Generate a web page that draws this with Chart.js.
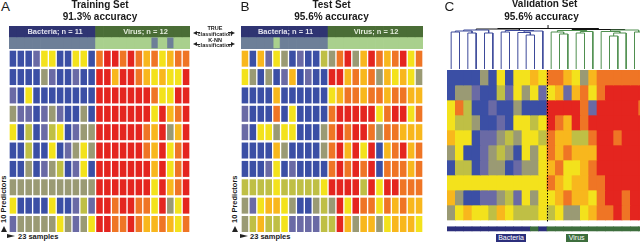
<!DOCTYPE html>
<html><head><meta charset="utf-8">
<script src="https://cdn.jsdelivr.net/npm/chart.js@4.4.1/dist/chart.umd.min.js"></script>
<style>
html,body{margin:0;padding:0;width:640px;height:242px;overflow:hidden;background:#fff;}
body{position:relative;font-family:"Liberation Sans",Arial,sans-serif;}
canvas{position:absolute;}
.t{position:absolute;white-space:nowrap;line-height:1;color:#1a1a1a;}
.b{font-weight:bold;}
.c{text-align:center;width:200px;}
.tri{position:absolute;width:0;height:0;}
</style></head><body>

<canvas id="cA" width="181" height="206" style="left:9px;top:26px"></canvas>
<canvas id="cB" width="182" height="206" style="left:240.7px;top:26px"></canvas>
<canvas id="cD" width="200" height="50" style="left:446.7px;top:20px"></canvas>
<canvas id="cC" width="200" height="162" style="left:446.7px;top:70px"></canvas>

<!-- panel letters and titles -->
<div class="t" style="left:1px;top:0px;font-size:13.5px">A</div>
<div class="t" style="left:240.5px;top:0px;font-size:13.5px">B</div>
<div class="t" style="left:444.5px;top:0px;font-size:13.5px">C</div>
<div class="t b c" style="left:0px;top:-0.5px;font-size:10px">Training Set</div>
<div class="t b c" style="left:0px;top:12px;font-size:10px">91.3% accuracy</div>
<div class="t b c" style="left:231.5px;top:-0.5px;font-size:10px">Test Set</div>
<div class="t b c" style="left:231.5px;top:12px;font-size:10px">95.6% accuracy</div>
<div class="t b c" style="left:444.5px;top:-1.5px;font-size:10px">Validation Set</div>
<div class="t b c" style="left:441.5px;top:12px;font-size:10px">95.6% accuracy</div>

<!-- header labels -->
<div class="t b c" style="left:-45px;top:28.4px;font-size:7.5px;color:#e2e2ee">Bacteria; n = 11</div>
<div class="t b c" style="left:45.5px;top:28.4px;font-size:7.5px;color:#e4ecdc">Virus; n = 12</div>
<div class="t b c" style="left:185.5px;top:28.4px;font-size:7.5px;color:#e2e2ee">Bacteria; n = 11</div>
<div class="t b c" style="left:276px;top:28.4px;font-size:7.5px;color:#e4ecdc">Virus; n = 12</div>

<!-- middle classification labels -->
<div class="t b c" style="left:115px;top:26.3px;font-size:5.5px">TRUE</div>
<div class="t b c" style="left:115px;top:31.8px;font-size:5.5px">classification</div>
<div class="t b c" style="left:115px;top:37.8px;font-size:5.5px">K-NN</div>
<div class="t b c" style="left:115px;top:43.1px;font-size:5.5px">classification</div>
<div class="tri" style="left:193px;top:30.5px;border-top:2px solid transparent;border-bottom:2px solid transparent;border-right:4px solid #222"></div>
<div class="tri" style="left:197px;top:32px;width:3px;height:1px;background:#222"></div>
<div class="tri" style="left:193px;top:42px;border-top:2px solid transparent;border-bottom:2px solid transparent;border-right:4px solid #222"></div>
<div class="tri" style="left:197px;top:43.5px;width:3px;height:1px;background:#222"></div>
<div class="tri" style="left:231px;top:30.5px;border-top:2px solid transparent;border-bottom:2px solid transparent;border-left:4px solid #222"></div>
<div class="tri" style="left:228px;top:32px;width:3px;height:1px;background:#222"></div>
<div class="tri" style="left:231px;top:42px;border-top:2px solid transparent;border-bottom:2px solid transparent;border-left:4px solid #222"></div>
<div class="tri" style="left:228px;top:43.5px;width:3px;height:1px;background:#222"></div>

<!-- axis notes -->
<div class="t b" style="left:0px;top:223px;font-size:7.5px;transform:rotate(-90deg);transform-origin:0 0">10 Predictors</div>
<div class="tri" style="left:1px;top:226px;border-left:3px solid transparent;border-right:3px solid transparent;border-bottom:6px solid #222"></div>
<div class="tri" style="left:7px;top:234px;border-top:2.5px solid transparent;border-bottom:2.5px solid transparent;border-left:8px solid #222"></div>
<div class="t b" style="left:18px;top:233.2px;font-size:7.5px">23 samples</div>
<div class="t b" style="left:231px;top:223px;font-size:7.5px;transform:rotate(-90deg);transform-origin:0 0">10 Predictors</div>
<div class="tri" style="left:232px;top:226px;border-left:3px solid transparent;border-right:3px solid transparent;border-bottom:6px solid #222"></div>
<div class="tri" style="left:240px;top:234px;border-top:2.5px solid transparent;border-bottom:2.5px solid transparent;border-left:8px solid #222"></div>
<div class="t b" style="left:250px;top:233.2px;font-size:7.5px">23 samples</div>

<!-- validation bottom labels -->
<div class="t" style="left:496px;top:234px;width:30px;height:8px;background:#2c2f7c;color:#fff;font-size:7px;text-align:center;line-height:8px">Bacteria</div>
<div class="t" style="left:565.7px;top:234px;width:22px;height:8px;background:#3d6e3d;color:#fff;font-size:7px;text-align:center;line-height:8px">Virus</div>

<script>
// ---------- DATA ----------
// colour level per cell: 0 blue (low) ... 7 red (high)
const trainingValues = [
  [0,0,0,1,4,4,0,0,4,4,0, 6,7,7,6,7,6,5,6,4,5,6,6],
  [0,0,0,0,2,1,0,0,1,0,0, 7,7,5,7,7,6,5,4,5,4,4,7],
  [1,0,4,0,0,0,0,0,0,0,0, 7,7,7,7,7,7,7,6,4,4,7,7],
  [2,1,1,0,1,2,1,0,0,2,0, 7,7,7,7,7,7,7,4,7,5,6,7],
  [4,0,3,0,1,3,4,0,1,2,2, 7,7,7,7,7,7,6,5,7,2,5,7],
  [0,0,3,0,0,4,0,1,2,4,2, 7,7,7,7,7,7,6,5,7,4,6,7],
  [0,0,2,0,1,2,3,0,1,4,0, 7,7,7,7,7,7,7,5,7,4,6,7],
  [2,2,2,2,2,2,2,2,2,2,2, 7,7,7,7,7,7,7,4,7,5,6,7],
  [4,0,0,0,0,4,0,0,1,3,1, 7,7,6,7,7,6,6,4,7,2,4,7],
  [1,2,2,2,2,2,4,2,1,2,4, 7,7,6,6,7,6,5,5,6,5,4,6]
];
const trainingTrue = [0,0,0,0,0,0,0,0,0,0,0, 1,1,1,1,1,1,1,1,1,1,1,1];
const trainingKnn  = [0,0,0,0,0,0,0,0,0,0,0, 1,1,1,1,1,1,1,0,1,0,1,1];

const testValues = [
  [5,0,5,1,4,2,0,1,0,0,3, 2,6,7,2,5,7,6,5,6,7,4,6],
  [4,2,0,2,0,1,5,0,1,0,0, 7,7,5,6,5,6,2,5,4,5,4,2],
  [0,0,0,0,5,0,0,0,0,0,0, 4,5,6,6,5,6,6,5,6,6,5,5],
  [1,0,0,0,6,0,4,0,0,0,0, 6,7,7,7,7,7,4,6,7,7,4,6],
  [1,0,4,4,2,4,4,0,0,0,2, 6,7,6,7,7,6,2,6,6,5,5,5],
  [0,0,0,0,5,2,0,0,0,0,2, 6,7,5,7,4,7,0,5,6,7,5,6],
  [0,0,0,1,4,0,1,0,0,0,0, 6,7,6,7,6,7,0,6,6,6,5,6],
  [3,3,3,3,4,3,3,3,3,3,4, 7,7,7,7,3,7,4,7,7,6,6,6],
  [2,1,4,5,5,4,2,0,0,2,3, 2,7,4,7,6,6,4,6,5,6,5,5],
  [2,3,5,3,3,4,1,1,1,1,3, 3,7,5,2,5,5,2,4,5,5,5,4]
];
const testTrue = [0,0,0,0,0,0,0,0,0,0,0, 1,1,1,1,1,1,1,1,1,1,1,1];
const testKnn  = [0,0,0,0,1,0,0,0,0,0,0, 1,1,1,1,1,1,1,1,1,1,1,1];

const validationValues = [
  [0,0,0,0,2,0,4,0,4,4,5,4, 6,6,5,4,2,5,6,6,6,6,6,6],
  [0,2,2,1,0,0,3,1,4,2,4,1, 4,5,1,5,6,4,6,7,7,7,7,7],
  [4,6,3,0,0,1,0,0,2,0,0,0, 7,7,7,7,6,1,7,7,7,7,7,6],
  [4,3,3,2,0,0,1,0,4,4,3,4, 7,6,5,7,6,7,7,7,7,7,7,7],
  [5,4,4,0,1,1,2,3,2,4,4,3, 6,5,5,3,3,6,7,7,6,7,7,7],
  [2,4,0,0,1,2,3,2,0,4,2,4, 6,5,6,5,5,5,7,7,7,7,7,7],
  [0,3,3,0,1,2,2,0,1,2,2,4, 5,6,4,4,5,6,7,7,7,7,7,7],
  [4,4,4,4,4,4,4,4,4,4,4,4, 6,5,4,5,5,6,6,7,7,7,7,7],
  [5,2,0,0,1,1,2,3,1,4,2,4, 4,5,6,5,5,4,6,7,7,6,7,7],
  [2,4,5,4,4,3,5,4,3,3,3,4, 3,4,2,2,4,5,6,6,7,6,7,7]
];
const validationKnn = [0,0,0,0,0,0,0,0,0,0,1,0, 1,1,1,1,1,1,1,1,1,1,1,1];

// dendrogram merges: [childA, childB, height, group]  (leaves 0..23, merged nodes numbered from 24)
const dendroMerges = [
  [0,1,38,'b'],[2,3,37,'b'],[24,25,39,'b'],[4,5,37,'b'],[26,27,40,'b'],
  [6,7,38,'b'],[9,10,35,'b'],[8,30,37.5,'b'],[31,11,39,'b'],[29,32,39.5,'b'],
  [28,33,41,'k'],
  [13,14,36,'v'],[12,35,38,'v'],[15,16,37,'v'],[37,17,38.5,'v'],[36,38,39.5,'v'],
  [19,20,34,'v'],[40,21,37,'v'],[18,41,38.5,'v'],[22,23,38,'v'],[42,43,40,'v'],
  [39,44,40.5,'k'],[34,45,41.5,'k']
];
const dendroLeafHeight = 1;
const dendroStemTop = 45;

// ---------- STYLE ----------
const PALETTE = ['#3b4fa5','#6a6aa5','#9a9a74','#bfbf45','#f3e21c','#f8b71d','#ef7525','#e4251f'];
const BACT_DARK = '#2f3472', VIRUS_DARK = '#4a6d36', BACT_LIGHT = '#6d7f98', VIRUS_LIGHT = '#a9d08d';
const DENDRO_COL = {b:'#3d4a9a', v:'#4f8f4f', k:'#111111'};

Chart.defaults.animation = false;

function baseOptions(yMin, yMax) {
  return {
    responsive:false, animation:false, events:[],
    layout:{padding:0},
    plugins:{legend:{display:false}, tooltip:{enabled:false}},
    scales:{
      x:{type:'category', display:false, offset:true, grid:{display:false}},
      y:{type:'linear', display:false, reverse:true, min:yMin, max:yMax}
    }
  };
}
function barDs(data, colors, bp, order) {
  return {data, backgroundColor:colors, barPercentage:bp, categoryPercentage:1, grouped:false, borderWidth:0, order:order||0};
}

function panel(id, values, trueCls, knnCls) {
  const labels = trueCls.map((_,i)=>'S'+(i+1));
  const ds = [];
  ds.push(barDs(trueCls.map(()=>[-1.345,-0.755]), trueCls.map(c=>c?VIRUS_DARK:BACT_DARK), 1, 2));
  ds.push(barDs(trueCls.map(()=>[-0.74,-0.11]), trueCls.map(c=>c?VIRUS_LIGHT:BACT_LIGHT), 1, 2));
  // misclassified samples drawn on top of the K-NN strip
  ds.push(barDs(knnCls.map((c,i)=>c!==trueCls[i]?[-0.72,-0.13]:null), knnCls.map(c=>c?VIRUS_LIGHT:BACT_LIGHT), 0.8, -1));
  values.forEach((row,r)=>ds.push(barDs(row.map(()=>[r, r+0.87]), row.map(v=>PALETTE[v]), 0.83, 1)));
  new Chart(document.getElementById(id), {type:'bar', data:{labels, datasets:ds}, options:baseOptions(-1.345, 9.87)});
}
panel('cA', trainingValues, trainingTrue, trainingKnn);
panel('cB', testValues, testTrue, testKnn);

// validation heatmap
(function(){
  const labels = validationKnn.map((_,i)=>'V'+(i+1));
  const ds = validationValues.map((row,r)=>barDs(row.map(()=>[r, r+1]), row.map(v=>PALETTE[v]), 1));
  ds.push(barDs(validationKnn.map(()=>[10.45,10.73]), validationKnn.map(c=>c?'#3d6e3d':'#2c2f7c'), 1));
  const divider = {id:'divider', afterDatasetsDraw(chart){
    const x = chart.scales.x, y = chart.scales.y, ctx = chart.ctx;
    const px = Math.round(x.getPixelForValue(11.5))+0.5;
    ctx.save(); ctx.strokeStyle='#000'; ctx.lineWidth=1; ctx.setLineDash([1.5,1.5]);
    ctx.beginPath(); ctx.moveTo(px, y.getPixelForValue(0)); ctx.lineTo(px, y.getPixelForValue(10.1)); ctx.stroke();
    ctx.restore();
  }};
  new Chart(document.getElementById('cC'), {type:'bar', data:{labels, datasets:ds}, options:baseOptions(0, 10.8), plugins:[divider]});
})();

// dendrogram
(function(){
  const nLeaves = validationKnn.length;
  const pos = {}, hgt = {};
  for (let i=0;i<nLeaves;i++){pos[i]=i; hgt[i]=dendroLeafHeight;}
  const segs = {b:[], v:[], k:[]};
  dendroMerges.forEach((m,j)=>{
    const [a,b,h,g] = m, id = nLeaves+j;
    segs[g].push({x:pos[a],y:hgt[a]},{x:pos[a],y:h},{x:pos[b],y:h},{x:pos[b],y:hgt[b]},{x:pos[b],y:null});
    pos[id]=(pos[a]+pos[b])/2; hgt[id]=h;
  });
  const rootId = nLeaves+dendroMerges.length-1;
  segs.k.push({x:pos[rootId],y:hgt[rootId]},{x:pos[rootId],y:dendroStemTop});
  const datasets = Object.keys(segs).map(g=>({data:segs[g], borderColor:DENDRO_COL[g], borderWidth:1, pointRadius:0, spanGaps:false, tension:0, fill:false}));
  new Chart(document.getElementById('cD'), {type:'line', data:{datasets},
    options:{responsive:false, animation:false, events:[], layout:{padding:0},
      plugins:{legend:{display:false}, tooltip:{enabled:false}},
      scales:{x:{type:'linear', display:false, min:-0.5, max:23.5}, y:{type:'linear', display:false, min:0, max:50}}}});
})();
</script>
</body></html>
